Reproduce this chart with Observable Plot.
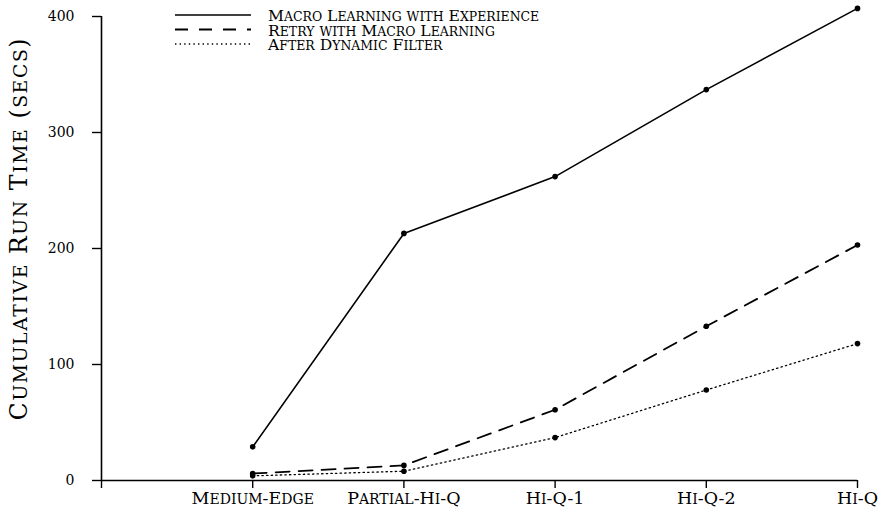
<!DOCTYPE html>
<html>
<head>
<meta charset="utf-8">
<script src="https://cdn.jsdelivr.net/npm/d3@7"></script>
<script src="https://cdn.jsdelivr.net/npm/@observablehq/plot@0.6"></script>
<style>
  html, body { margin: 0; padding: 0; background: #fff; }
  #wrap { position: relative; width: 883px; height: 525px; }
  #legend { position: absolute; left: 0; top: 0; pointer-events: none; }
</style>
</head>
<body>
<div id="wrap"></div>
<script>
const categories = ["Medium-Edge", "Partial-Hi-Q", "Hi-Q-1", "Hi-Q-2", "Hi-Q"];
const seriesNames = ["Macro Learning with Experience", "Retry with Macro Learning", "After Dynamic Filter"];
const macroExperience = [29, 213, 262, 337, 407];
const retryMacro = [6, 13, 61, 133, 203];
const dynamicFilter = [4, 8, 37, 78, 118];
const yTicks = [0, 100, 200, 300, 400];
const yLabel = "Cumulative Run Time (secs)";

const seriesValues = [macroExperience, retryMacro, dynamicFilter];
const dashes = [null, "14,9", "1.4,3.2"];
const widths = [1.6, 1.8, 1.3];

const rows = [];
seriesValues.forEach((vals, s) => vals.forEach((v, i) => rows.push({series: seriesNames[s], x: i + 1, y: v})));

const font = "'DejaVu Serif', 'Liberation Serif', serif";

const marks = [
  Plot.ruleY([0], {stroke: "black", strokeWidth: 1.6}),
  Plot.ruleX([0], {stroke: "black", strokeWidth: 1.6}),
  Plot.axisY({ticks: yTicks, tickSize: 9, tickPadding: 18, fontSize: 14, tickFormat: d3.format("d"), label: null, strokeWidth: 1.4}),
  Plot.axisX({ticks: [0, 1, 2, 3, 4, 5], tickSize: 8, tickPadding: 3, fontSize: 17.5,
    tickFormat: i => i === 0 ? "" : categories[i - 1], label: null, strokeWidth: 1.4}),
  Plot.text([yLabel], {frameAnchor: "left", textAnchor: "middle", rotate: -90, dx: -82, dy: -20, fontSize: 23.5, fill: "black"})
];
seriesNames.forEach((name, s) => {
  const data = rows.filter(r => r.series === name);
  marks.push(Plot.line(data, {x: "x", y: "y", stroke: "black", strokeWidth: widths[s], strokeDasharray: dashes[s]}));
  marks.push(Plot.dot(data, {x: "x", y: "y", r: 2.8, fill: "black", stroke: "none"}));
});

const chart = Plot.plot({
  width: 883,
  height: 525,
  marginLeft: 101,
  marginRight: 26,
  marginTop: 16,
  marginBottom: 45,
  clip: false,
  style: {fontFamily: font, color: "black", background: "white", overflow: "visible"},
  x: {domain: [0, 5]},
  y: {domain: [0, 400]},
  marks
});
document.getElementById("wrap").appendChild(chart);

// True-ish small caps: lowercase letters become capitals at 80% size
const ns = "http://www.w3.org/2000/svg";
function smallCaps(el) {
  const s = el.textContent;
  if (!/[a-z]/.test(s)) return;
  while (el.firstChild) el.removeChild(el.firstChild);
  let i = 0;
  while (i < s.length) {
    const low = s[i] !== s[i].toUpperCase();
    let j = i;
    while (j < s.length && ((s[j] !== s[j].toUpperCase()) === low)) j++;
    const t = document.createElementNS(ns, "tspan");
    t.textContent = s.slice(i, j).toUpperCase();
    if (low) t.setAttribute("font-size", "80%");
    el.appendChild(t);
    i = j;
  }
}
chart.querySelectorAll("text").forEach(el => {
  if (el.textContent === yLabel) el.setAttribute("letter-spacing", "1.6");
  if (!el.querySelector("tspan")) smallCaps(el); else el.querySelectorAll("tspan").forEach(smallCaps);
});

// Legend overlay
const leg = document.createElementNS(ns, "svg");
leg.setAttribute("id", "legend");
leg.setAttribute("width", 600);
leg.setAttribute("height", 60);
seriesNames.forEach((name, s) => {
  const cy = 15 + s * 14.5;
  const line = document.createElementNS(ns, "line");
  line.setAttribute("x1", 175); line.setAttribute("x2", 251);
  line.setAttribute("y1", cy); line.setAttribute("y2", cy);
  line.setAttribute("stroke", "black");
  line.setAttribute("stroke-width", widths[s]);
  if (dashes[s]) line.setAttribute("stroke-dasharray", s === 1 ? "13,11" : dashes[s]);
  leg.appendChild(line);
  const t = document.createElementNS(ns, "text");
  t.setAttribute("x", 268); t.setAttribute("y", cy + 6);
  t.setAttribute("font-family", font);
  t.setAttribute("font-size", 15.6);
  t.setAttribute("fill", "black");
  t.textContent = name;
  smallCaps(t);
  leg.appendChild(t);
});
document.getElementById("wrap").appendChild(leg);
</script>
</body>
</html>
